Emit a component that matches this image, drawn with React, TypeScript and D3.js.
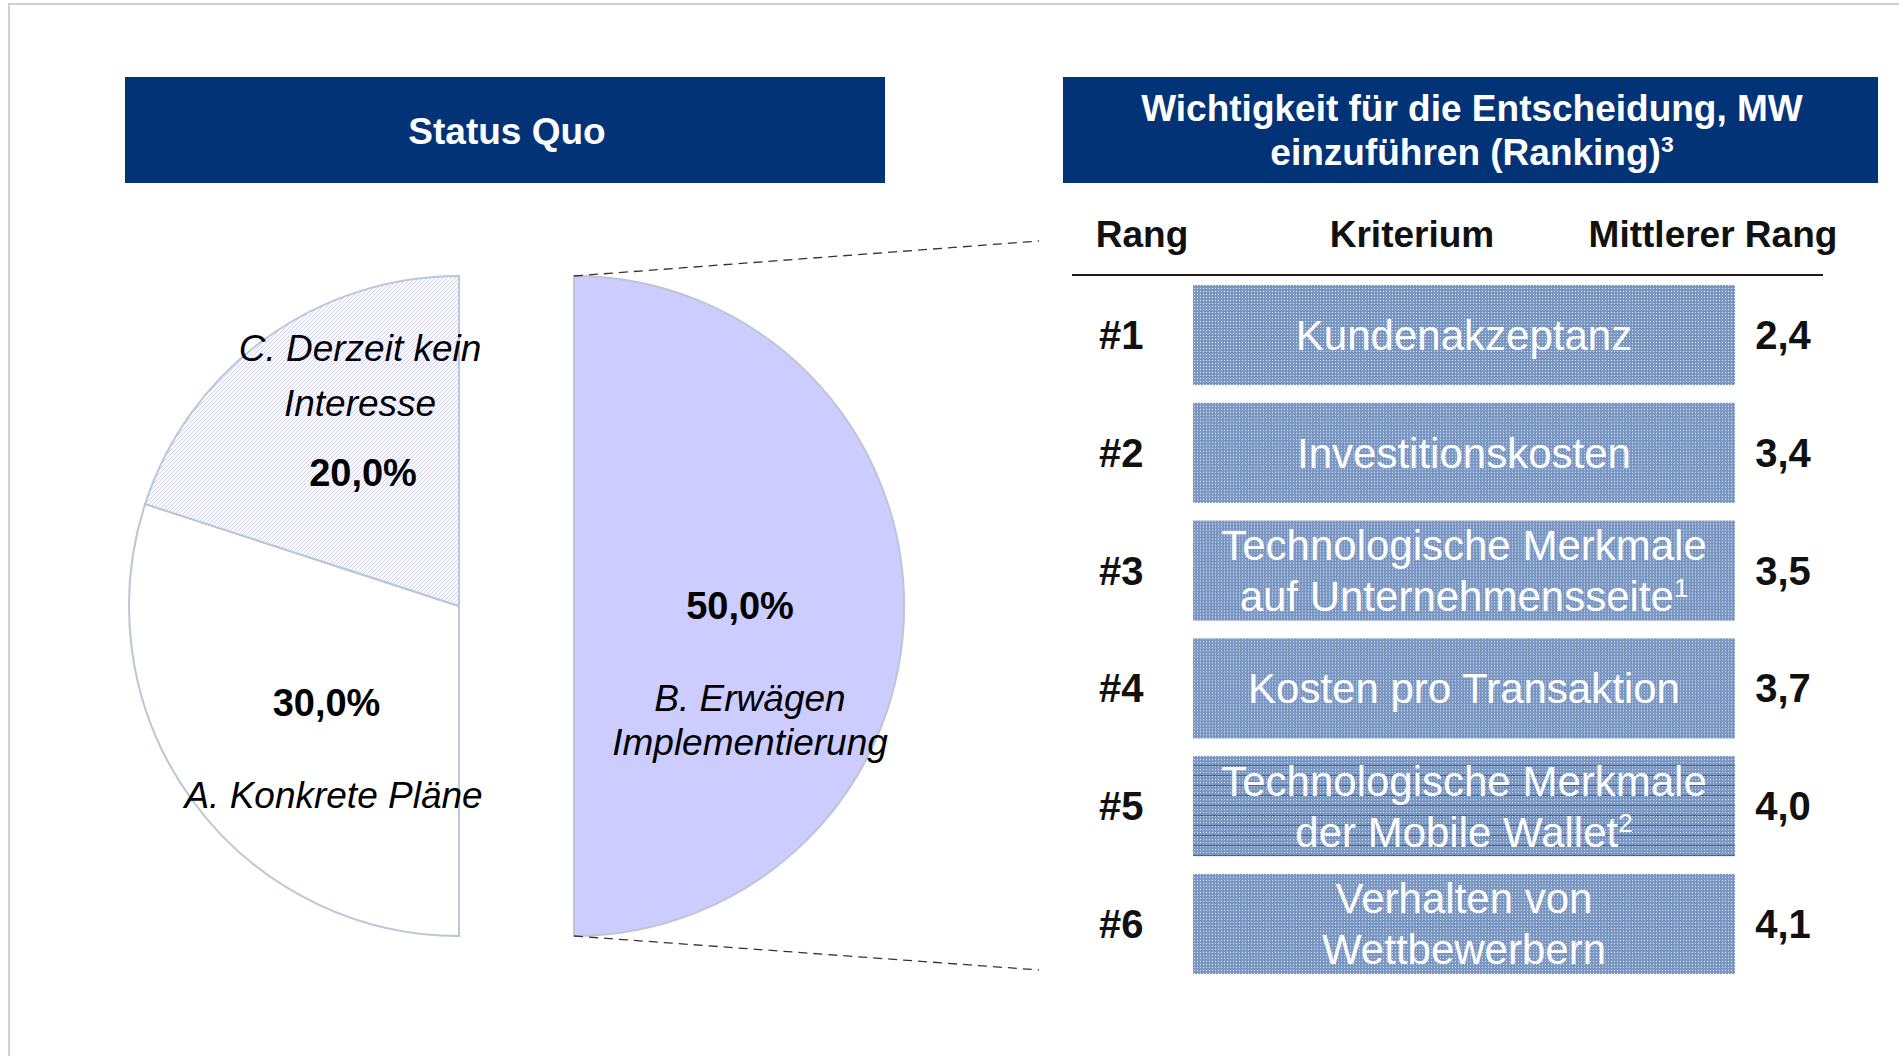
import { useEffect, useRef } from 'react';
import * as d3 from 'd3';

// Pie: Status Quo
const sliceKeys = ['B', 'A', 'C'];
const sliceValues = [50, 30, 20];
const sliceLabels = [
  ['B. Erwägen', 'Implementierung'],
  ['A. Konkrete Pläne'],
  ['C. Derzeit kein', 'Interesse'],
];

// Ranking table
const ranks = ['#1', '#2', '#3', '#4', '#5', '#6'];
const criteria = [
  ['Kundenakzeptanz'],
  ['Investitionskosten'],
  ['Technologische Merkmale', 'auf Unternehmensseite^1'],
  ['Kosten pro Transaktion'],
  ['Technologische Merkmale', 'der Mobile Wallet^2'],
  ['Verhalten von', 'Wettbewerbern'],
];
const meanRanks = [2.4, 3.4, 3.5, 3.7, 4.0, 4.1];

const columnHeaders = ['Rang', 'Kriterium', 'Mittlerer Rang'];
const leftTitle = 'Status Quo';
const rightTitle = ['Wichtigkeit für die Entscheidung, MW', 'einzuführen (Ranking)^3'];

const FONT = '"Liberation Sans", Arial, Helvetica, sans-serif';
const NAVY = '#023377';
const W = 1899;
const H = 1056;

const sliceFill: Record<string, string> = {
  B: '#ccccff',
  A: '#ffffff',
  C: 'url(#hatch)',
};
// label placement relative to the slice centroid
const labelLayout: Record<string, { dx: number; lines: number[] }> = {
  B: { dx: 11, lines: [105, 149] },
  A: { dx: 8, lines: [105] },
  C: { dx: -2, lines: [-112, -57] },
};
const stripedRows = ['#5'];

const de = d3.formatLocale({ decimal: ',', thousands: '.', grouping: [3], currency: ['', ' €'] });
const fmtPct = de.format('.1%');
const fmtNum = de.format('.1f');

// writes "text^n" as text with a raised footnote mark
const withSup = (sel: d3.Selection<SVGTextElement, any, any, any>, s: string) => {
  const [main, sup] = s.split('^');
  sel.append('tspan').text(main);
  if (sup) {
    sel.append('tspan')
      .attr('dy', '-0.55em')
      .style('font-size', '62%')
      .text(sup);
  }
};

const App = () => {
  const ref = useRef<SVGSVGElement | null>(null);

  useEffect(() => {
    if (!ref.current) return;
    const svg = d3.select(ref.current);
    svg.selectAll('*').remove();

    const defs = svg.append('defs');
    const hatch = defs.append('pattern')
      .attr('id', 'hatch')
      .attr('patternUnits', 'userSpaceOnUse')
      .attr('width', 4)
      .attr('height', 4);
    hatch.append('rect').attr('width', 4).attr('height', 4).attr('fill', '#ffffff');
    hatch.append('path')
      .attr('d', 'M-1,1 l2,-2 M0,4 l4,-4 M3,5 l2,-2')
      .attr('stroke', '#cdcdf6')
      .attr('stroke-width', 1);

    const dots = defs.append('pattern')
      .attr('id', 'dots')
      .attr('patternUnits', 'userSpaceOnUse')
      .attr('width', 3)
      .attr('height', 3);
    dots.append('rect').attr('width', 3).attr('height', 3).attr('fill', '#7a97c3');
    dots.append('rect').attr('width', 1).attr('height', 1).attr('fill', '#e2e8f2');

    const stripes = defs.append('pattern')
      .attr('id', 'stripes')
      .attr('patternUnits', 'userSpaceOnUse')
      .attr('width', 3)
      .attr('height', 10);
    stripes.append('rect').attr('width', 3).attr('height', 10).attr('fill', '#7a97c3');
    [0, 3, 6].forEach(yy => {
      stripes.append('rect').attr('x', 0).attr('y', yy).attr('width', 1).attr('height', 1).attr('fill', '#e2e8f2');
    });
    stripes.append('rect').attr('x', 0).attr('y', 9).attr('width', 3).attr('height', 1).attr('fill', '#3d5d9e');

    svg.append('rect').attr('width', W).attr('height', H).attr('fill', '#ffffff');

    // outer frame
    svg.append('path')
      .attr('d', `M9,${H} V4 H${W}`)
      .attr('fill', 'none')
      .attr('stroke', '#c9d1dc')
      .attr('stroke-width', 2);

    // ---------- Left: Status Quo ----------
    svg.append('rect')
      .attr('x', 125).attr('y', 77)
      .attr('width', 760).attr('height', 106)
      .attr('fill', NAVY);
    svg.append('text')
      .attr('x', 507).attr('y', 144)
      .attr('text-anchor', 'middle')
      .style('font-family', FONT)
      .style('font-size', '37px')
      .style('font-weight', 'bold')
      .style('fill', '#ffffff')
      .text(leftTitle);

    const cx = 459;
    const cy = 606;
    const radius = 330;
    const explode = 115;

    const pie = d3.pie<number>().sort(null).value(d => d);
    const arc = d3.arc<d3.PieArcDatum<number>>().innerRadius(0).outerRadius(radius);
    const arcs = pie(sliceValues);
    const total = d3.sum(sliceValues);

    const slices = svg.selectAll('g.slice')
      .data(arcs)
      .enter()
      .append('g')
      .attr('class', 'slice')
      .attr('transform', (_, i) => `translate(${cx + (sliceKeys[i] === 'B' ? explode : 0)}, ${cy})`);

    slices.append('path')
      .attr('d', arc)
      .attr('fill', (_, i) => sliceFill[sliceKeys[i]])
      .attr('stroke', '#bcc6d5')
      .attr('stroke-width', 2);

    // dashed connectors from the pulled-out slice to the table
    const bx = cx + explode;
    svg.append('line')
      .attr('x1', bx).attr('y1', cy - radius)
      .attr('x2', 1039).attr('y2', 241)
      .attr('stroke', '#333').attr('stroke-width', 1.3).attr('stroke-dasharray', '9,6');
    svg.append('line')
      .attr('x1', bx).attr('y1', cy + radius)
      .attr('x2', 1039).attr('y2', 970)
      .attr('stroke', '#333').attr('stroke-width', 1.3).attr('stroke-dasharray', '9,6');

    slices.each(function (d, i) {
      const g = d3.select(this);
      const [x, y] = arc.centroid(d);
      const lay = labelLayout[sliceKeys[i]];
      g.append('text')
        .attr('x', x + 1).attr('y', y + 13)
        .attr('text-anchor', 'middle')
        .style('font-family', FONT)
        .style('font-size', '38px')
        .style('font-weight', 'bold')
        .style('fill', '#000')
        .text(fmtPct(d.data / total));
      sliceLabels[i].forEach((line, k) => {
        g.append('text')
          .attr('x', x + lay.dx).attr('y', y + lay.lines[k])
          .attr('text-anchor', 'middle')
          .style('font-family', FONT)
          .style('font-size', '37px')
          .style('font-style', 'italic')
          .style('fill', '#000')
          .text(line);
      });
    });

    // ---------- Right: ranking table ----------
    svg.append('rect')
      .attr('x', 1063).attr('y', 77)
      .attr('width', 815).attr('height', 106)
      .attr('fill', NAVY);
    rightTitle.forEach((line, k) => {
      const t = svg.append('text')
        .attr('x', 1472).attr('y', 121 + k * 44)
        .attr('text-anchor', 'middle')
        .style('font-family', FONT)
        .style('font-size', '37px')
        .style('font-weight', 'bold')
        .style('fill', '#ffffff');
      withSup(t, line);
    });

    const headerX = [1142, 1412, 1713];
    columnHeaders.forEach((h, i) => {
      svg.append('text')
        .attr('x', headerX[i]).attr('y', 247)
        .attr('text-anchor', 'middle')
        .style('font-family', FONT)
        .style('font-size', '37px')
        .style('font-weight', 'bold')
        .style('fill', '#111')
        .text(h);
    });
    svg.append('line')
      .attr('x1', 1072).attr('x2', 1823)
      .attr('y1', 275).attr('y2', 275)
      .attr('stroke', '#1a1a1a').attr('stroke-width', 2);

    const y = d3.scaleBand<string>()
      .domain(ranks)
      .range([285, 974])
      .paddingInner(0.15);

    const barX0 = 1193;
    const barX1 = 1735;
    const rows = svg.selectAll('g.row')
      .data(ranks)
      .enter()
      .append('g')
      .attr('class', 'row')
      .attr('transform', d => `translate(0, ${y(d)})`);

    const bw = y.bandwidth();
    rows.append('rect')
      .attr('x', barX0)
      .attr('width', barX1 - barX0)
      .attr('height', bw)
      .attr('fill', d => (stripedRows.includes(d) ? 'url(#stripes)' : 'url(#dots)'));

    rows.append('text')
      .attr('x', 1099).attr('y', bw / 2 + 14)
      .style('font-family', FONT)
      .style('font-size', '40px')
      .style('font-weight', 'bold')
      .style('fill', '#111')
      .text(d => d);

    rows.append('text')
      .attr('x', 1783).attr('y', bw / 2 + 14)
      .attr('text-anchor', 'middle')
      .style('font-family', FONT)
      .style('font-size', '40px')
      .style('font-weight', 'bold')
      .style('fill', '#111')
      .text((_, i) => fmtNum(meanRanks[i]));

    rows.each(function (_, i) {
      const g = d3.select(this);
      const lines = criteria[i];
      lines.forEach((line, k) => {
        const t = g.append('text')
          .attr('x', (barX0 + barX1) / 2)
          .attr('y', bw / 2 + 15 + (k - (lines.length - 1) / 2) * 51)
          .attr('text-anchor', 'middle')
          .style('font-family', FONT)
          .style('font-size', '42px')
          .style('fill', '#ffffff');
        withSup(t as any, line);
      });
    });
  }, []);

  return (
    <svg
      ref={ref}
      width={W}
      height={H}
      style={{ position: 'absolute', left: 0, top: 0, display: 'block' }}
    />
  );
};

export default App;
